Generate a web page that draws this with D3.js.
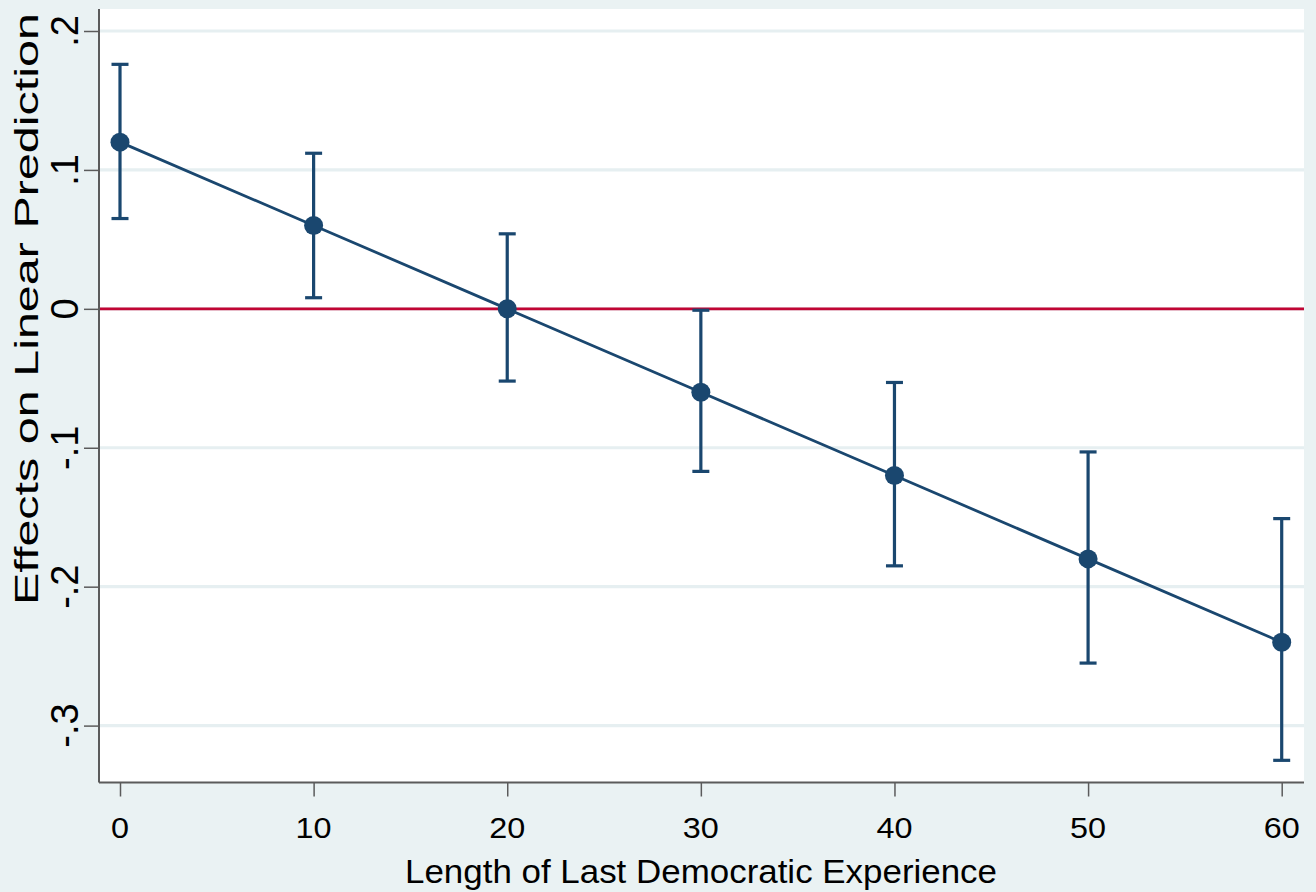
<!DOCTYPE html>
<html>
<head>
<meta charset="utf-8">
<script src="https://cdn.jsdelivr.net/npm/d3@7"></script>
<style>
  html, body { margin: 0; padding: 0; background: #eaf2f3; }
  svg { display: block; }
</style>
</head>
<body>
<div id="chart"></div>
<script>
let width = 1316
let height = 892
let fontFamily = "Liberation Sans, Arial, Helvetica, sans-serif"

// data
let years = [0, 10, 20, 30, 40, 50, 60]
let effects = [0.12, 0.06, 0, -0.06, -0.12, -0.18, -0.24]
let upper = [0.176, 0.112, 0.054, -0.001, -0.053, -0.103, -0.151]
let lower = [0.065, 0.008, -0.052, -0.117, -0.185, -0.255, -0.325]
let xTicks = [0, 10, 20, 30, 40, 50, 60]
let yTicks = [0.2, 0.1, 0, -0.1, -0.2, -0.3]
let yTickLabels = ['.2', '.1', '0', '-.1', '-.2', '-.3']

let data = years.map((d, i) => ({ x: d, y: effects[i], hi: upper[i], lo: lower[i] }))

// plot region
let region = { left: 99, right: 1304, top: 9, bottom: 782.5 }
let navy = '#1a476f'
let axisColor = '#5b5b5b'

let x = d3.scaleLinear()
    .domain([0, 60])
    .range([120, 1281.7])
let y = d3.scaleLinear()
    .domain([0.2, -0.3])
    .range([31, 725.6])

let svg = d3.select('#chart')
    .append('svg')
    .attr('width', width)
    .attr('height', height)
    .style('font-family', fontFamily)

svg.append('rect')
    .attr('width', width)
    .attr('height', height)
    .attr('fill', '#eaf2f3')

svg.append('rect')
    .attr('x', region.left)
    .attr('y', region.top)
    .attr('width', region.right - region.left)
    .attr('height', region.bottom - region.top)
    .attr('fill', '#ffffff')

// grid lines
svg.append('g')
    .selectAll('line')
    .data(yTicks)
    .join('line')
    .attr('x1', region.left)
    .attr('x2', region.right)
    .attr('y1', d => y(d))
    .attr('y2', d => y(d))
    .attr('stroke', '#e6eff1')
    .attr('stroke-width', 3.2)

// reference line at zero
svg.append('line')
    .attr('x1', region.left)
    .attr('x2', region.right)
    .attr('y1', y(0))
    .attr('y2', y(0))
    .attr('stroke', '#c10534')
    .attr('stroke-width', 2.8)

// confidence intervals
let ci = svg.append('g')
    .attr('stroke', navy)
    .attr('stroke-width', 3.2)
ci.selectAll('.bar')
    .data(data)
    .join('line')
    .attr('class', 'bar')
    .attr('x1', d => x(d.x))
    .attr('x2', d => x(d.x))
    .attr('y1', d => y(d.hi))
    .attr('y2', d => y(d.lo))
ci.selectAll('.caphi')
    .data(data)
    .join('line')
    .attr('class', 'caphi')
    .attr('x1', d => x(d.x) - 8.5)
    .attr('x2', d => x(d.x) + 8.5)
    .attr('y1', d => y(d.hi))
    .attr('y2', d => y(d.hi))
ci.selectAll('.caplo')
    .data(data)
    .join('line')
    .attr('class', 'caplo')
    .attr('x1', d => x(d.x) - 8.5)
    .attr('x2', d => x(d.x) + 8.5)
    .attr('y1', d => y(d.lo))
    .attr('y2', d => y(d.lo))

// connecting line
let line = d3.line()
    .x(d => x(d.x))
    .y(d => y(d.y))
svg.append('path')
    .datum(data)
    .attr('d', line)
    .attr('fill', 'none')
    .attr('stroke', navy)
    .attr('stroke-width', 2.8)

// markers
svg.append('g')
    .selectAll('circle')
    .data(data)
    .join('circle')
    .attr('cx', d => x(d.x))
    .attr('cy', d => y(d.y))
    .attr('r', 9.5)
    .attr('fill', navy)

// axes
let yAxis = svg.append('g')
    .attr('transform', `translate(${region.left},0)`)
    .call(d3.axisLeft(y).tickValues(yTicks).tickSize(15).tickFormat(''))
yAxis.select('.domain').remove()
yAxis.selectAll('.tick line').attr('stroke', axisColor).attr('stroke-width', 1.5)
svg.append('line')
    .attr('x1', region.left).attr('x2', region.left)
    .attr('y1', region.top).attr('y2', region.bottom)
    .attr('stroke', axisColor).attr('stroke-width', 2)

svg.append('g')
    .selectAll('text')
    .data(yTicks)
    .join('text')
    .attr('transform', d => `translate(78,${y(d)}) rotate(-90)`)
    .attr('text-anchor', 'middle')
    .attr('font-size', 38)
    .attr('fill', '#000')
    .text((d, i) => yTickLabels[i])

let xAxis = svg.append('g')
    .attr('transform', `translate(0,${region.bottom})`)
    .call(d3.axisBottom(x).tickValues(xTicks).tickSize(14).tickFormat(''))
xAxis.select('.domain').remove()
xAxis.selectAll('.tick line').attr('stroke', axisColor).attr('stroke-width', 1.5)
svg.append('line')
    .attr('x1', region.left).attr('x2', region.right)
    .attr('y1', region.bottom).attr('y2', region.bottom)
    .attr('stroke', axisColor).attr('stroke-width', 2)

svg.append('g')
    .selectAll('text')
    .data(xTicks)
    .join('text')
    .attr('x', d => x(d))
    .attr('y', 838)
    .attr('text-anchor', 'middle')
    .attr('font-size', 29)
    .attr('fill', '#000')
    .each(function (d) {
        // ticks are drawn a bit wider than the font's own glyphs
        d3.select(this).attr('textLength', String(d).length * 18)
            .attr('lengthAdjust', 'spacingAndGlyphs')
    })
    .text(d => d)

// axis titles
svg.append('text')
    .attr('x', 701)
    .attr('y', 883)
    .attr('text-anchor', 'middle')
    .attr('font-size', 33)
    .attr('textLength', 592)
    .attr('lengthAdjust', 'spacingAndGlyphs')
    .attr('fill', '#000')
    .text('Length of Last Democratic Experience')

svg.append('text')
    .attr('transform', 'translate(38,309) rotate(-90)')
    .attr('text-anchor', 'middle')
    .attr('font-size', 33)
    .attr('textLength', 592)
    .attr('lengthAdjust', 'spacingAndGlyphs')
    .attr('fill', '#000')
    .text('Effects on Linear Prediction')
</script>
</body>
</html>
